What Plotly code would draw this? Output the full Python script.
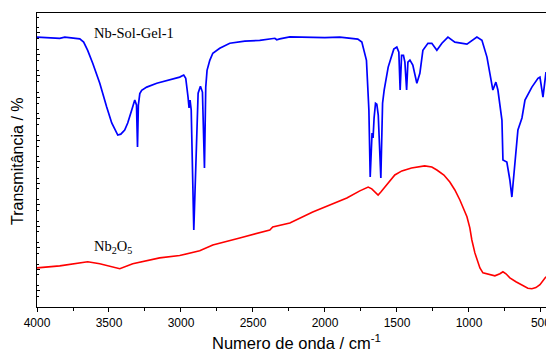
import plotly.graph_objects as go

# Nb-Sol-Gel-1 spectrum (wavenumber cm-1, transmittance a.u.)
sol_gel_wn = [4000, 3912, 3842, 3807, 3738, 3703, 3676, 3648, 3613, 3564, 3516, 3481, 3439, 3418,
              3391, 3370, 3342, 3321, 3309, 3302, 3296, 3286, 3273, 3238, 3168, 3078, 3009, 2981,
              2967, 2951, 2944, 2937, 2929, 2911, 2897, 2881, 2865, 2851, 2837, 2828, 2819, 2800,
              2779, 2731, 2661, 2557, 2453, 2348, 2335, 2314, 2244, 2105, 2001, 1897, 1828, 1772,
              1744, 1730, 1712, 1695, 1686, 1673, 1666, 1659, 1649, 1640, 1630, 1612, 1600, 1589,
              1561, 1542, 1522, 1501, 1487, 1478, 1468, 1455, 1445, 1433, 1424, 1410, 1390, 1362,
              1341, 1320, 1285, 1258, 1223, 1188, 1146, 1098, 1014, 945, 910, 875, 855, 834, 813,
              799, 771, 764, 737, 716, 702, 681, 660, 632, 611, 563, 521, 507, 486, 465]
sol_gel_t = [91.8, 91.6, 91.4, 91.8, 91.4, 91.2, 90.1, 87.3, 82.9, 76.1, 68.0, 62.6, 58.5, 58.8,
             60.2, 62.6, 67.0, 70.4, 68.7, 54.4, 68.7, 72.6, 73.7, 74.8, 76.1, 77.2, 78.2, 78.9,
             77.8, 71.4, 67.7, 70.4, 67.0, 26.2, 50.0, 72.7, 75.1, 73.1, 47.3, 74.8, 80.5, 83.9,
             86.3, 88.0, 89.7, 90.4, 90.7, 91.4, 90.9, 91.2, 91.9, 91.8, 91.6, 91.8, 91.4, 91.1,
             90.1, 87.3, 83.9, 67.0, 44.2, 59.2, 57.5, 64.3, 69.3, 69.0, 65.3, 43.9, 69.3, 73.8,
             81.6, 84.6, 87.7, 88.4, 86.7, 73.8, 85.6, 85.6, 83.3, 73.8, 83.3, 84.0, 82.3, 76.1,
             79.5, 87.3, 89.7, 89.7, 87.3, 89.7, 91.8, 90.1, 89.4, 91.8, 90.7, 85.0, 79.9, 73.8, 76.5,
             73.8, 63.6, 50.0, 49.3, 43.2, 37.4, 50.0, 60.2, 64.3, 70.4, 74.8, 77.8, 78.2, 71.4, 79.9]

# Nb2O5 spectrum
nb2o5_wn = [4000, 3842, 3648, 3564, 3425, 3335, 3148, 3009, 2870, 2779, 2592, 2383, 2363, 2244,
            2085, 1966, 1848, 1758, 1700, 1675, 1654, 1631, 1612, 1584, 1549, 1515, 1466, 1399,
            1308, 1258, 1223, 1174, 1133, 1098, 1063, 1036, 1014, 994, 980, 959, 945, 924, 903,
            862, 820, 785, 764, 743, 716, 674, 626, 591, 563, 535, 507, 486, 465]
nb2o5_t = [13.3, 14.0, 15.4, 14.7, 13.0, 14.7, 16.7, 17.5, 19.1, 21.1, 23.5, 26.2, 27.2, 28.6,
           32.3, 34.7, 37.1, 39.5, 40.8, 40.2, 39.1, 38.1, 39.1, 40.8, 42.9, 44.9, 46.3, 47.3,
           48.0, 47.6, 46.6, 44.9, 42.5, 39.8, 36.4, 33.4, 30.7, 26.9, 22.8, 18.4, 16.1, 13.3, 11.6,
           11.0, 10.6, 11.3, 12.0, 11.3, 9.9, 8.6, 7.2, 6.4, 6.2, 6.6, 7.6, 8.9, 10.3]

x_ticks = [4000, 3500, 3000, 2500, 2000, 1500, 1000, 500]
x_tick_labels = ["4000", "3500", "3000", "2500", "2000", "1500", "1000", "500"]

fig = go.Figure()
fig.add_trace(go.Scatter(x=sol_gel_wn, y=sol_gel_t, mode="lines",
                         line=dict(color="#0000ff", width=1.7), showlegend=False))
fig.add_trace(go.Scatter(x=nb2o5_wn, y=nb2o5_t, mode="lines",
                         line=dict(color="#ff0000", width=1.6), showlegend=False))

fig.update_layout(
    width=546, height=354,
    margin=dict(l=37, r=0, t=13, b=47, autoexpand=False),
    plot_bgcolor="white", paper_bgcolor="white",
    font=dict(family="Liberation Sans, Arial, sans-serif", color="black"),
    xaxis=dict(range=[4000, 465], tickmode="array", tickvals=x_ticks, ticktext=x_tick_labels,
               ticks="outside", ticklen=4, tickwidth=1, tickcolor="black",
               minor=dict(dtick=250, ticks="outside", ticklen=2.5, tickcolor="black"),
               showline=True, linecolor="black", linewidth=1.2, mirror=True,
               ticklabeloverflow="allow", automargin=False,
               showgrid=False, zeroline=False, tickfont=dict(size=12)),
    yaxis=dict(range=[0, 100], showticklabels=False, tick0=85.9, dtick=7.3,
               ticks="inside", ticklen=3, tickcolor="black",
               minor=dict(dtick=3.65, ticks="inside", ticklen=2, tickcolor="black"),
               showline=True, linecolor="black", linewidth=1.2, mirror=False,
               automargin=False, showgrid=False, zeroline=False),
    annotations=[
        dict(text="Nb-Sol-Gel-1", x=3620, y=93.1, xref="x", yref="y", xanchor="left",
             yanchor="middle", showarrow=False,
             font=dict(family="Liberation Serif, Times New Roman, serif", size=14.5)),
        dict(text="Nb<sub>2</sub>O<sub>5</sub>", x=3620, y=20.5, xref="x", yref="y",
             xanchor="left", yanchor="middle", showarrow=False,
             font=dict(family="Liberation Serif, Times New Roman, serif", size=14.5)),
        dict(text="Numero de onda / cm<sup>-1</sup>", x=0.509, y=-0.118, xref="paper",
             yref="paper", xanchor="center", yanchor="middle", showarrow=False,
             font=dict(size=16.5)),
        dict(text="Transmitância / %", x=-0.037, y=0.494, xref="paper", yref="paper",
             xanchor="center", yanchor="middle", textangle=-90, showarrow=False,
             font=dict(size=16)),
    ],
)

fig.write_html(
    "out.html",
    config={"displayModeBar": False},
    post_script=("document.documentElement.style.overflow='hidden';"
                 "document.body.style.margin='0';"
                 "document.body.style.overflow='hidden';"),
)
